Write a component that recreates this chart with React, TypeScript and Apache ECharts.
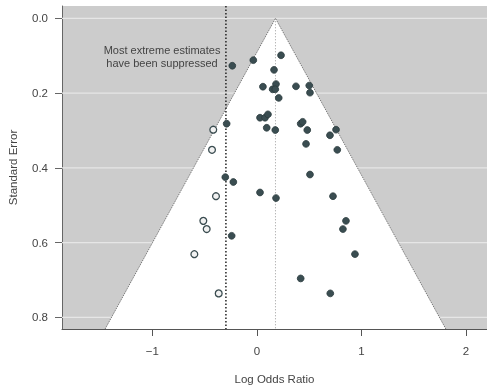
import React, { useEffect, useRef } from "react";
import * as echarts from "echarts";

// Observed studies (log odds ratio, standard error)
const observedLogOR = [
  -0.235, -0.034, 0.231, 0.164, 0.058, 0.183, 0.151, 0.176, 0.374, 0.501, 0.508, 0.209,
  -0.289, 0.03, 0.078, 0.106, 0.094, 0.176, 0.419, 0.438, 0.482, 0.699, 0.757, 0.47,
  0.769, -0.302, -0.225, 0.508, 0.03, 0.183, 0.728, -0.241, 0.852, 0.823, 0.938, 0.419, 0.702,
];
const observedSE = [
  0.127, 0.112, 0.099, 0.138, 0.183, 0.176, 0.19, 0.19, 0.182, 0.18, 0.199, 0.213,
  0.282, 0.266, 0.266, 0.257, 0.293, 0.299, 0.282, 0.277, 0.299, 0.313, 0.298, 0.336,
  0.352, 0.425, 0.438, 0.418, 0.466, 0.481, 0.476, 0.582, 0.542, 0.564, 0.631, 0.696, 0.736,
];
// Imputed (filled) studies
const imputedLogOR = [-0.417, -0.429, -0.391, -0.512, -0.48, -0.598, -0.365];
const imputedSE = [0.298, 0.352, 0.476, 0.542, 0.564, 0.631, 0.736];

const pooledEstimate = 0.178;
const referenceLine = -0.296;
const xTicks = [-1, 0, 1, 2];
const yTicks = [0, 0.2, 0.4, 0.6, 0.8];
const xMin = -1.8636;
const xMax = 2.2008;
const yMin = -0.0329;
const yMax = 0.8313;

const FONT = "'Liberation Sans', Arial, Helvetica, sans-serif";

export default function App() {
  const ref = useRef<HTMLDivElement>(null);
  useEffect(() => {
    if (!ref.current) return;
    const chart = echarts.init(ref.current, null, { renderer: "svg" });
    const observed = observedLogOR.map((v, i) => [v, observedSE[i]]);
    const imputed = imputedLogOR.map((v, i) => [v, imputedSE[i]]);
    const option: any = {
      animation: false,
      textStyle: { fontFamily: FONT },
      grid: {
        left: 62,
        top: 6,
        right: 0,
        bottom: 57,
        show: true,
        backgroundColor: "#cccccc",
        borderWidth: 0,
        containLabel: false,
        outerBoundsMode: "none",
      },
      xAxis: {
        type: "value",
        min: xMin,
        max: xMax,
        name: "Log Odds Ratio",
        nameLocation: "middle",
        nameGap: 44,
        nameTextStyle: { fontSize: 11.5, color: "#444", fontFamily: FONT },
        axisLine: { show: true, onZero: false, lineStyle: { color: "#555", width: 1 } },
        axisTick: { show: true, length: 7, customValues: xTicks, lineStyle: { color: "#555" } },
        axisLabel: {
          customValues: xTicks,
          margin: 16,
          fontSize: 11.5,
          color: "#444",
          fontFamily: FONT,
          formatter: (v: number) => (v < 0 ? "\u2212" + Math.abs(v) : String(v)),
        },
        splitLine: { show: false },
      },
      yAxis: {
        type: "value",
        inverse: true,
        min: yMin,
        max: yMax,
        name: "Standard Error",
        nameLocation: "middle",
        nameGap: 43,
        nameTextStyle: { fontSize: 11.5, color: "#444", fontFamily: FONT },
        axisLine: { show: true, onZero: false, lineStyle: { color: "#666", width: 1 } },
        axisTick: { show: true, length: 7, customValues: yTicks, lineStyle: { color: "#666" } },
        axisLabel: {
          customValues: yTicks,
          margin: 14,
          fontSize: 11.5,
          color: "#444",
          fontFamily: FONT,
          formatter: (v: number) => v.toFixed(1),
        },
        splitLine: { show: false },
      },
      graphic: [
        {
          type: "text",
          x: 162,
          y: 43,
          z: 100,
          style: {
            text: "Most extreme estimates\nhave been suppressed",
            textAlign: "center",
            textVerticalAlign: "top",
            font: "11px " + FONT,
            lineHeight: 13,
            fill: "#444",
          },
        },
      ],
      series: [
        {
          type: "custom",
          z: 1,
          silent: true,
          data: yTicks.map((v) => [v]),
          renderItem: (params: any, api: any) => {
            const v = api.value(0);
            const p1 = api.coord([xMin, v]);
            const p2 = api.coord([xMax, v]);
            return {
              type: "line",
              shape: { x1: p1[0], y1: p1[1], x2: p2[0], y2: p2[1] },
              style: { stroke: "#e6e6e6", lineWidth: 1.2 },
            };
          },
        },
        {
          type: "custom",
          z: 2,
          silent: true,
          data: [[pooledEstimate]],
          renderItem: (params: any, api: any) => {
            const c = api.value(0);
            const w = 1.96 * yMax;
            const a = api.coord([c - w, yMax]);
            const b = api.coord([c, 0]);
            const d = api.coord([c + w, yMax]);
            return {
              type: "group",
              children: [
                {
                  type: "polygon",
                  shape: { points: [a, b, d] },
                  style: { fill: "#ffffff", stroke: "none" },
                },
                {
                  type: "polyline",
                  shape: { points: [a, b, d] },
                  style: { stroke: "#7a7a7a", lineWidth: 1, lineDash: [1.5, 1], fill: "none" },
                },
              ],
            };
          },
        },
        {
          type: "line",
          z: 3,
          silent: true,
          symbol: "none",
          data: [
            [pooledEstimate, 0],
            [pooledEstimate, yMax],
          ],
          lineStyle: { color: "#9a9a9a", width: 1, type: [1, 2] },
        },
        {
          type: "line",
          z: 3,
          silent: true,
          symbol: "none",
          data: [
            [referenceLine, yMin],
            [referenceLine, yMax],
          ],
          lineStyle: { color: "#222", width: 1.5, type: [1.5, 2] },
        },
        {
          type: "scatter",
          z: 4,
          symbol: "circle",
          symbolSize: 6.8,
          data: imputed,
          itemStyle: { color: "#f2f2f2", borderColor: "#3a4c50", borderWidth: 1.3, opacity: 1 },
        },
        {
          type: "scatter",
          z: 4,
          symbol: "circle",
          symbolSize: 6.8,
          data: observed,
          itemStyle: { color: "#3a4d51", borderColor: "#2b3b3e", borderWidth: 0.8, opacity: 1 },
        },
      ],
    };
    chart.setOption(option);
    return () => chart.dispose();
  }, []);
  return (
    <div
      ref={ref}
      style={{ position: "fixed", left: 0, top: 0, width: 487, height: 386 }}
    />
  );
}
